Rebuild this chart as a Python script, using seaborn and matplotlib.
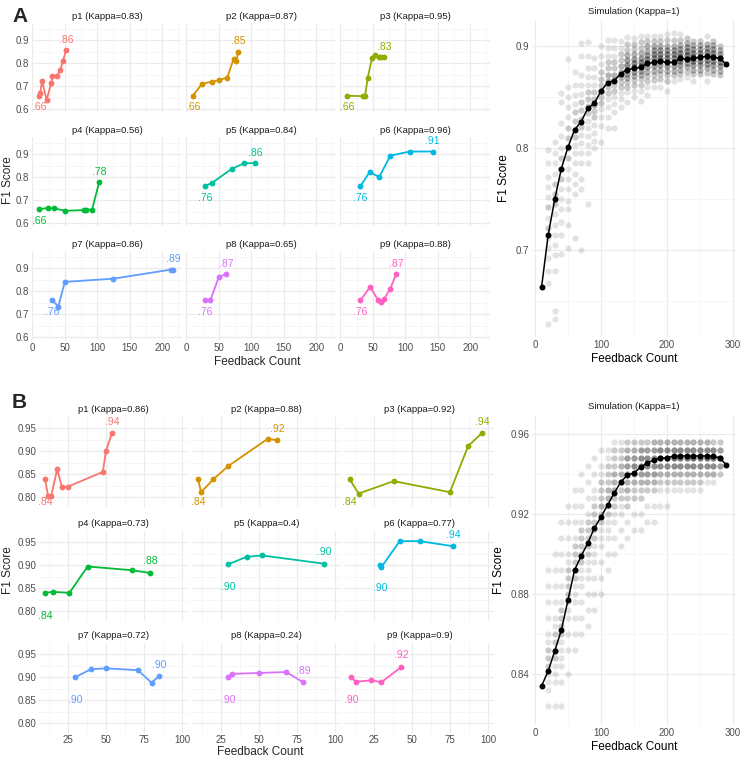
import pandas as pd
import matplotlib.pyplot as plt
import seaborn as sns
from matplotlib.ticker import FixedLocator

# ---- data: panel A (facets) ----
panels = ["p1", "p2", "p3", "p4", "p5", "p6", "p7", "p8", "p9"]
hue_colors = ["#F8766D", "#D39200", "#93AA00", "#00BA38", "#00C19F",
              "#00B9E3", "#619CFF", "#DB72FB", "#FF61C3"]

a_kappa = [0.83, 0.87, 0.95, 0.56, 0.84, 0.96, 0.86, 0.65, 0.88]
a_count = [
    [10, 12, 15, 22, 29, 31, 38, 43, 47, 52],
    [10, 24, 40, 51, 63, 73, 77, 80],
    [11, 35, 38, 42, 49, 54, 59, 63, 67],
    [10, 24, 34, 51, 80, 82, 92, 103],
    [29, 40, 70, 89, 106],
    [31, 45, 60, 77, 107, 142],
    [31, 40, 50, 125, 213, 217],
    [29, 37, 50, 61],
    [31, 46, 58, 62, 67, 77, 86],
]
a_f1 = [
    [0.658, 0.669, 0.723, 0.640, 0.712, 0.746, 0.746, 0.770, 0.809, 0.857],
    [0.658, 0.710, 0.720, 0.727, 0.737, 0.820, 0.810, 0.850],
    [0.658, 0.657, 0.657, 0.734, 0.824, 0.835, 0.828, 0.826, 0.826],
    [0.661, 0.666, 0.664, 0.654, 0.657, 0.659, 0.659, 0.779],
    [0.761, 0.776, 0.836, 0.860, 0.861],
    [0.761, 0.821, 0.801, 0.893, 0.911, 0.911],
    [0.760, 0.733, 0.840, 0.854, 0.893, 0.893],
    [0.760, 0.760, 0.861, 0.874],
    [0.760, 0.819, 0.761, 0.754, 0.764, 0.811, 0.874],
]

# ---- data: panel B (facets) ----
b_kappa = [0.86, 0.88, 0.92, 0.73, 0.4, 0.77, 0.72, 0.24, 0.9]
b_count = [
    [10, 12, 14, 18, 21, 25, 48, 50, 54],
    [10, 12, 20, 30, 56, 62],
    [9, 15, 38, 75, 87, 96],
    [10, 15, 26, 38, 67, 79],
    [30, 42, 52, 93],
    [29, 30, 42, 55, 77],
    [30, 40, 50, 71, 80, 85],
    [30, 32, 50, 68, 79],
    [10, 13, 23, 30, 43],
]
b_f1 = [
    [0.839, 0.803, 0.803, 0.861, 0.823, 0.823, 0.855, 0.900, 0.939],
    [0.839, 0.811, 0.839, 0.868, 0.927, 0.923],
    [0.839, 0.808, 0.835, 0.811, 0.911, 0.939],
    [0.840, 0.842, 0.840, 0.897, 0.889, 0.883],
    [0.902, 0.918, 0.921, 0.903],
    [0.901, 0.896, 0.952, 0.952, 0.941],
    [0.900, 0.917, 0.919, 0.915, 0.888, 0.902],
    [0.900, 0.907, 0.909, 0.911, 0.889],
    [0.900, 0.890, 0.893, 0.889, 0.922],
]

# ---- data: simulations (mean curve) ----
sim_mean_x = [10, 20, 30, 40, 50, 60, 70, 80, 90, 100, 110, 120, 130, 140, 150,
              160, 170, 180, 190, 200, 210, 220, 230, 240, 250, 260, 270, 280, 290]
sim_a_mean = [0.664, 0.715, 0.750, 0.780, 0.801, 0.818, 0.826, 0.839, 0.844, 0.856,
              0.864, 0.866, 0.873, 0.877, 0.878, 0.879, 0.883, 0.884, 0.885, 0.884,
              0.884, 0.888, 0.887, 0.888, 0.889, 0.890, 0.889, 0.888, 0.882]
sim_b_mean = [0.834, 0.8415, 0.8515, 0.862, 0.877, 0.892, 0.899, 0.9055, 0.913, 0.9185,
              0.9245, 0.9305, 0.936, 0.9395, 0.9405, 0.9435, 0.9455, 0.947, 0.948, 0.948,
              0.949, 0.949, 0.949, 0.949, 0.949, 0.949, 0.949, 0.948, 0.9445]

# ---- data: simulation runs (F1 levels per feedback count and how many runs sit there) ----
sim_pts_x = [20, 30, 40, 50, 60, 70, 80, 90, 100, 110, 120, 130, 140, 150,
             160, 170, 180, 190, 200, 210, 220, 230, 240, 250, 260, 270, 280]
sim_a_levels = [
    [0.798, 0.785, 0.772, 0.762, 0.752, 0.742, 0.732, 0.722, 0.712, 0.702, 0.692, 0.68, 0.668, 0.628],
    [0.806, 0.795, 0.785, 0.775, 0.765, 0.755, 0.745, 0.735, 0.725, 0.715, 0.705, 0.695, 0.68, 0.64, 0.633],
    [0.854, 0.845, 0.825, 0.812, 0.80, 0.79, 0.78, 0.77, 0.76, 0.75, 0.74, 0.728, 0.715, 0.696],
    [0.887, 0.86, 0.85, 0.84, 0.83, 0.82, 0.81, 0.80, 0.79, 0.78, 0.77, 0.76, 0.748, 0.74, 0.725, 0.702],
    [0.875, 0.862, 0.852, 0.843, 0.835, 0.827, 0.819, 0.811, 0.803, 0.795, 0.785, 0.775, 0.765, 0.755, 0.712],
    [0.903, 0.89, 0.872, 0.862, 0.853, 0.845, 0.837, 0.829, 0.821, 0.813, 0.805, 0.795, 0.785, 0.77, 0.76, 0.70],
    [0.904, 0.89, 0.878, 0.87, 0.862, 0.855, 0.848, 0.841, 0.834, 0.827, 0.82, 0.812, 0.803, 0.795, 0.785, 0.745],
    [0.888, 0.878, 0.87, 0.862, 0.855, 0.848, 0.842, 0.836, 0.83, 0.823, 0.815, 0.807, 0.80],
    [0.90, 0.89, 0.882, 0.875, 0.868, 0.862, 0.856, 0.85, 0.844, 0.838, 0.83, 0.822, 0.806],
    [0.906, 0.898, 0.89, 0.884, 0.878, 0.872, 0.866, 0.86, 0.854, 0.848, 0.84, 0.83, 0.82],
    [0.906, 0.898, 0.89, 0.884, 0.878, 0.872, 0.867, 0.862, 0.856, 0.85, 0.843, 0.835, 0.82],
    [0.905, 0.898, 0.892, 0.886, 0.88, 0.875, 0.87, 0.865, 0.86, 0.854, 0.848, 0.84],
    [0.909, 0.902, 0.896, 0.891, 0.886, 0.881, 0.877, 0.873, 0.869, 0.865, 0.86, 0.855, 0.845],
    [0.908, 0.902, 0.897, 0.892, 0.887, 0.883, 0.879, 0.875, 0.871, 0.867, 0.862, 0.856, 0.85],
    [0.91, 0.904, 0.898, 0.893, 0.888, 0.884, 0.88, 0.876, 0.872, 0.868, 0.862, 0.856, 0.846],
    [0.91, 0.905, 0.9, 0.895, 0.891, 0.887, 0.883, 0.879, 0.875, 0.871, 0.866, 0.86, 0.852],
    [0.91, 0.905, 0.9, 0.896, 0.892, 0.888, 0.884, 0.88, 0.876, 0.872, 0.867, 0.86],
    [0.91, 0.905, 0.9, 0.896, 0.892, 0.888, 0.885, 0.881, 0.877, 0.873, 0.868, 0.86],
    [0.912, 0.906, 0.9, 0.896, 0.892, 0.888, 0.884, 0.88, 0.876, 0.872, 0.866, 0.856],
    [0.913, 0.906, 0.9, 0.896, 0.892, 0.888, 0.884, 0.88, 0.876, 0.872, 0.866],
    [0.912, 0.906, 0.901, 0.897, 0.893, 0.889, 0.885, 0.881, 0.877, 0.873, 0.868],
    [0.908, 0.903, 0.899, 0.895, 0.891, 0.887, 0.883, 0.879, 0.875, 0.87],
    [0.905, 0.901, 0.897, 0.893, 0.889, 0.885, 0.881, 0.877, 0.873, 0.866],
    [0.905, 0.901, 0.897, 0.893, 0.889, 0.885, 0.881, 0.877, 0.873],
    [0.91, 0.902, 0.898, 0.894, 0.89, 0.886, 0.882, 0.878, 0.874, 0.866],
    [0.905, 0.901, 0.897, 0.893, 0.889, 0.885, 0.881, 0.877, 0.873],
    [0.90, 0.896, 0.892, 0.888, 0.884, 0.88, 0.876, 0.872],
]
sim_a_runs = [
    [1, 1, 1, 1, 1, 2, 1, 2, 1, 1, 1, 1, 1, 1],
    [1, 1, 1, 1, 2, 2, 2, 1, 1, 1, 1, 1, 1, 1, 1],
    [1, 1, 1, 1, 1, 2, 2, 2, 1, 1, 1, 1, 1, 1],
    [1, 1, 1, 1, 1, 2, 2, 2, 2, 1, 1, 1, 1, 1, 1, 1],
    [1, 1, 1, 1, 2, 2, 2, 2, 1, 1, 1, 1, 1, 1, 1],
    [1, 1, 1, 1, 1, 2, 2, 2, 2, 1, 1, 1, 1, 1, 1, 1],
    [1, 1, 1, 1, 1, 2, 2, 2, 2, 1, 1, 1, 1, 1, 1, 1],
    [1, 1, 1, 1, 2, 2, 3, 2, 2, 1, 1, 1, 1],
    [1, 1, 1, 2, 2, 2, 3, 2, 2, 1, 1, 1, 1],
    [1, 1, 1, 2, 2, 3, 3, 2, 2, 1, 1, 1, 1],
    [1, 1, 1, 2, 2, 3, 3, 2, 2, 1, 1, 1, 1],
    [1, 1, 2, 2, 3, 3, 3, 2, 2, 1, 1, 1],
    [1, 2, 2, 3, 4, 5, 5, 4, 3, 2, 2, 1, 1],
    [1, 2, 2, 3, 4, 5, 5, 4, 3, 2, 2, 1, 1],
    [1, 2, 2, 3, 4, 5, 5, 4, 3, 2, 2, 1, 1],
    [1, 2, 3, 3, 4, 5, 5, 4, 3, 2, 2, 1, 1],
    [1, 2, 3, 4, 5, 5, 5, 4, 3, 2, 2, 1],
    [1, 2, 3, 4, 5, 5, 5, 4, 3, 2, 2, 1],
    [1, 2, 3, 4, 5, 5, 5, 4, 3, 2, 2, 1],
    [1, 2, 3, 4, 5, 5, 5, 4, 3, 2, 1],
    [1, 2, 3, 4, 5, 6, 5, 4, 3, 2, 1],
    [2, 3, 4, 5, 6, 5, 4, 3, 2, 1],
    [2, 3, 4, 5, 6, 5, 4, 3, 2, 1],
    [2, 3, 4, 5, 6, 5, 4, 3, 2],
    [1, 3, 4, 5, 6, 5, 4, 3, 2, 1],
    [2, 3, 4, 5, 6, 5, 4, 3, 2],
    [2, 3, 4, 5, 5, 4, 3, 2],
]
sim_b_levels = [
    [0.892, 0.884, 0.876, 0.868, 0.86, 0.856, 0.852, 0.848, 0.844, 0.84, 0.836, 0.832, 0.824],
    [0.90, 0.892, 0.884, 0.876, 0.868, 0.864, 0.86, 0.856, 0.852, 0.848, 0.844, 0.84, 0.836, 0.824],
    [0.916, 0.908, 0.90, 0.892, 0.884, 0.876, 0.872, 0.868, 0.864, 0.86, 0.856, 0.852, 0.848, 0.844, 0.836, 0.824],
    [0.924, 0.916, 0.908, 0.90, 0.896, 0.892, 0.888, 0.884, 0.88, 0.876, 0.872, 0.868, 0.86, 0.852, 0.84],
    [0.932, 0.924, 0.916, 0.908, 0.904, 0.90, 0.896, 0.892, 0.888, 0.884, 0.88, 0.876, 0.868, 0.86, 0.852],
    [0.94, 0.932, 0.924, 0.916, 0.912, 0.908, 0.904, 0.90, 0.896, 0.892, 0.888, 0.884, 0.876, 0.868, 0.86],
    [0.944, 0.936, 0.928, 0.92, 0.916, 0.912, 0.908, 0.904, 0.90, 0.896, 0.892, 0.888, 0.88, 0.872, 0.864],
    [0.948, 0.94, 0.932, 0.928, 0.924, 0.92, 0.916, 0.912, 0.908, 0.904, 0.90, 0.896, 0.888, 0.88, 0.872],
    [0.952, 0.944, 0.94, 0.936, 0.932, 0.928, 0.924, 0.92, 0.916, 0.912, 0.908, 0.904, 0.896, 0.888, 0.88],
    [0.952, 0.948, 0.944, 0.94, 0.936, 0.932, 0.928, 0.924, 0.92, 0.916, 0.912, 0.908, 0.90, 0.892],
    [0.956, 0.952, 0.948, 0.944, 0.94, 0.936, 0.932, 0.928, 0.924, 0.92, 0.916, 0.908, 0.90],
    [0.956, 0.952, 0.948, 0.944, 0.94, 0.936, 0.932, 0.928, 0.924, 0.92, 0.912, 0.904],
    [0.956, 0.952, 0.948, 0.944, 0.94, 0.936, 0.932, 0.928, 0.924, 0.916, 0.908],
    [0.956, 0.952, 0.948, 0.944, 0.94, 0.936, 0.932, 0.928, 0.92, 0.912],
    [0.956, 0.952, 0.948, 0.944, 0.94, 0.936, 0.932, 0.928, 0.92, 0.912],
    [0.956, 0.952, 0.948, 0.944, 0.94, 0.936, 0.932, 0.924, 0.916],
    [0.956, 0.952, 0.948, 0.944, 0.94, 0.936, 0.932, 0.924, 0.916],
    [0.956, 0.952, 0.948, 0.944, 0.94, 0.936, 0.932, 0.924],
    [0.956, 0.952, 0.948, 0.944, 0.94, 0.936, 0.932, 0.924],
    [0.956, 0.952, 0.948, 0.944, 0.94, 0.936, 0.932],
    [0.956, 0.952, 0.948, 0.944, 0.94, 0.936, 0.932],
    [0.956, 0.952, 0.948, 0.944, 0.94, 0.936, 0.932],
    [0.956, 0.952, 0.948, 0.944, 0.94, 0.936, 0.932],
    [0.956, 0.952, 0.948, 0.944, 0.94, 0.936, 0.932],
    [0.956, 0.952, 0.948, 0.944, 0.94, 0.936],
    [0.956, 0.952, 0.948, 0.944, 0.94, 0.936],
    [0.956, 0.952, 0.948, 0.944, 0.94],
]
sim_b_runs = [
    [1, 1, 1, 1, 1, 1, 2, 2, 2, 1, 1, 1, 1],
    [1, 1, 1, 1, 1, 1, 2, 2, 2, 2, 1, 1, 1, 1],
    [1, 1, 1, 1, 1, 1, 2, 2, 2, 2, 1, 1, 1, 1, 1, 1],
    [1, 1, 1, 1, 1, 2, 2, 2, 2, 1, 1, 1, 1, 1, 1],
    [1, 1, 1, 1, 2, 2, 2, 2, 2, 1, 1, 1, 1, 1, 1],
    [1, 1, 1, 1, 2, 2, 2, 2, 2, 1, 1, 1, 1, 1, 1],
    [1, 1, 1, 1, 2, 2, 2, 2, 2, 1, 1, 1, 1, 1, 1],
    [1, 1, 1, 1, 2, 2, 2, 2, 2, 1, 1, 1, 1, 1, 1],
    [1, 1, 1, 2, 2, 2, 3, 2, 2, 1, 1, 1, 1, 1, 1],
    [1, 1, 2, 2, 2, 3, 3, 2, 2, 1, 1, 1, 1, 1],
    [1, 2, 2, 2, 3, 3, 3, 2, 2, 1, 1, 1, 1],
    [1, 2, 2, 3, 3, 3, 2, 2, 1, 1, 1, 1],
    [2, 3, 4, 4, 4, 3, 3, 2, 2, 1, 1],
    [2, 3, 4, 5, 4, 3, 2, 2, 1, 1],
    [2, 4, 5, 5, 4, 3, 2, 2, 1, 1],
    [2, 4, 5, 5, 4, 3, 2, 1, 1],
    [3, 4, 5, 5, 4, 3, 2, 1, 1],
    [3, 5, 6, 5, 3, 2, 1, 1],
    [3, 5, 6, 5, 3, 2, 1, 1],
    [3, 5, 6, 5, 3, 2, 1],
    [3, 5, 6, 5, 3, 2, 1],
    [3, 5, 6, 5, 3, 2, 1],
    [3, 5, 6, 5, 3, 2, 1],
    [3, 5, 6, 5, 3, 2, 1],
    [3, 5, 6, 5, 3, 1],
    [2, 5, 6, 5, 3, 1],
    [2, 4, 5, 4, 2],
]

# ---- styling ----
sns.set_theme(style="whitegrid")
plt.rcParams["font.family"] = ["Liberation Sans", "DejaVu Sans"]

W, H = 744, 759
fig = plt.figure(figsize=(W / 100, H / 100), dpi=100)
TICK_COL = "#4D4D4D"


def px_axes(left, top, width, height):
    return fig.add_axes([left / W, 1 - (top + height) / H, width / W, height / H])


def style_axes(ax, xmaj, xmin, ymaj, ymin, show_x, show_y, yfmt):
    for s in ax.spines.values():
        s.set_visible(False)
    ax.xaxis.set_major_locator(FixedLocator(xmaj))
    ax.xaxis.set_minor_locator(FixedLocator(xmin))
    ax.yaxis.set_major_locator(FixedLocator(ymaj))
    ax.yaxis.set_minor_locator(FixedLocator(ymin))
    ax.grid(which="major", color="#EBEBEB", lw=0.9)
    ax.grid(which="minor", color="#F3F3F3", lw=0.5)
    ax.tick_params(which="both", length=0, pad=2, labelsize=7, colors=TICK_COL)
    ax.set_yticklabels([yfmt.format(v) for v in ymaj] if show_y else [])
    ax.set_xticklabels([str(v) for v in xmaj] if show_x else [])
    ax.set_xlabel("")
    ax.set_ylabel("")
    ax.set_axisbelow(True)


def short(v):
    return f"{v:.2f}".lstrip("0")


def draw_facets(counts, f1s, kappas, lefts, tops, w, h, xlim, ylim,
                xmaj, xmin, ymaj, ymin, yfmt, up, down):
    for i, name in enumerate(panels):
        r, c = divmod(i, 3)
        ax = px_axes(lefts[c], tops[r], w, h)
        df = pd.DataFrame({"count": counts[i], "f1": f1s[i]})
        sns.lineplot(data=df, x="count", y="f1", color=hue_colors[i], lw=1.3,
                     marker="o", markersize=4.2, markeredgewidth=0, ax=ax)
        ax.text(counts[i][0], f1s[i][0] - down, short(f1s[i][0]),
                color=hue_colors[i], fontsize=7.5, ha="center", va="center")
        ax.text(counts[i][-1], f1s[i][-1] + up, short(f1s[i][-1]),
                color=hue_colors[i], fontsize=7.5, ha="center", va="center")
        ax.set_xlim(*xlim)
        ax.set_ylim(*ylim)
        style_axes(ax, xmaj, xmin, ymaj, ymin, r == 2, c == 0, yfmt)
        ax.set_title(f"{name} (Kappa={kappas[i]})", fontsize=6.8, color="#1A1A1A", pad=3)


draw_facets(a_count, a_f1, a_kappa, [32, 186, 340], [23, 137, 251], 150, 89,
            (-0.5, 230.5), (0.588, 0.974),
            [0, 50, 100, 150, 200], [25, 75, 125, 175, 225],
            [0.6, 0.7, 0.8, 0.9], [0.65, 0.75, 0.85, 0.95], "{:.1f}", 0.045, 0.05)

draw_facets(b_count, b_f1, b_kappa, [39, 192, 345], [416.5, 530.5, 642.5], 149, 90,
            (6, 104), (0.780, 0.975),
            [25, 50, 75, 100], [12.5, 37.5, 62.5, 87.5],
            [0.80, 0.85, 0.90, 0.95], [0.825, 0.875, 0.925], "{:.2f}", 0.025, 0.05)


def draw_sim(top, height, levels, runs, mean, ylim, ymaj, ymin, yfmt):
    ax = px_axes(532, top, 204, height)
    sim = pd.DataFrame({"count": sim_pts_x, "f1": levels, "n": runs})
    sim = sim.explode(["f1", "n"], ignore_index=True)
    sim = sim.loc[sim.index.repeat(sim["n"].astype(int))]
    sim["f1"] = sim["f1"].astype(float)
    sns.scatterplot(data=sim, x="count", y="f1", color="black", alpha=0.11,
                    s=20, linewidth=0, ax=ax)
    sns.lineplot(x=sim_mean_x, y=mean, color="black", lw=1.1, marker="o",
                 markersize=4.3, markeredgewidth=0, ax=ax)
    ax.set_xlim(-4.5, 304.5)
    ax.set_ylim(*ylim)
    style_axes(ax, [0, 100, 200, 300], [50, 150, 250], ymaj, ymin, True, True, yfmt)
    ax.set_title("Simulation (Kappa=1)", fontsize=6.8, color="#1A1A1A", pad=4)
    ax.set_xlabel("Feedback Count", fontsize=8.5, color="black", labelpad=2)
    ax.set_ylabel("F1 Score", fontsize=8.5, color="black", labelpad=4)


draw_sim(20, 317, sim_a_levels, sim_a_runs, sim_a_mean, (0.615, 0.9255),
         [0.7, 0.8, 0.9], [0.65, 0.75, 0.85], "{:.1f}")
draw_sim(415, 310, sim_b_levels, sim_b_runs, sim_b_mean, (0.8145, 0.9695),
         [0.84, 0.88, 0.92, 0.96], [0.86, 0.90, 0.94], "{:.2f}")

# shared axis titles and panel letters
fig.text(257 / W, 1 - 362 / H, "Feedback Count", fontsize=8.5, ha="center", va="center")
fig.text(260 / W, 1 - 752 / H, "Feedback Count", fontsize=8.5, ha="center", va="center")
fig.text(8 / W, 1 - 180 / H, "F1 Score", fontsize=8.5, rotation=90, ha="center", va="center")
fig.text(8 / W, 1 - 570 / H, "F1 Score", fontsize=8.5, rotation=90, ha="center", va="center")
fig.text(12 / W, 1 - 17 / H, "A", fontsize=15, fontweight="bold", ha="left", va="center")
fig.text(12 / W, 1 - 402 / H, "B", fontsize=15, fontweight="bold", ha="left", va="center")

fig.savefig("out.png", dpi=100)
